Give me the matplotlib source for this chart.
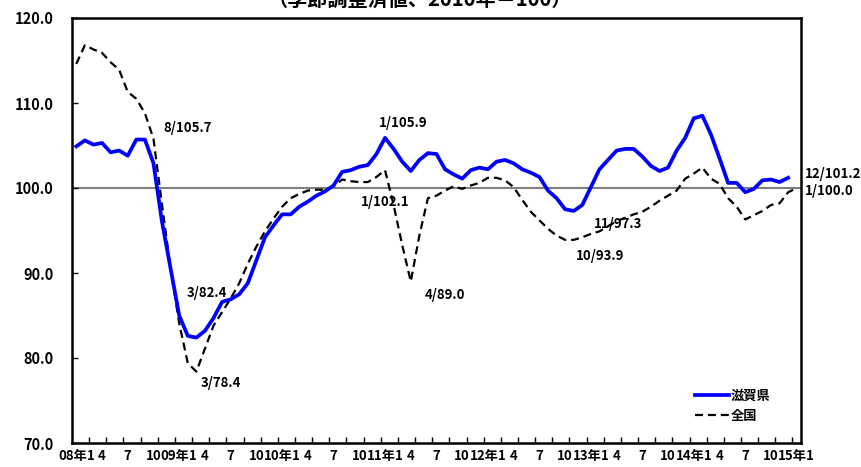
import matplotlib
matplotlib.use('Agg')
import matplotlib.pyplot as plt
import numpy as np

plt.rcParams['font.family'] = ['Noto Sans CJK JP', 'DejaVu Sans']
plt.rcParams['font.weight'] = 'bold'

# 2008年1月 ~ 2015年1月 (月次、季節調整済値、2010年=100)
years = ['08', '09', '10', '11', '12', '13', '14', '15']
shiga = [104.9, 105.6, 105.1, 105.3, 104.2, 104.4, 103.8, 105.7, 105.7, 102.9,
         96.0, 90.5, 85.0, 82.6, 82.4, 83.2, 84.7, 86.6, 86.9, 87.5,
         88.8, 91.5, 94.2, 95.6, 96.9, 96.9, 97.8, 98.4, 99.1, 99.6,
         100.3, 101.9, 102.1, 102.5, 102.7, 104.0, 105.9, 104.6, 103.1, 102.0,
         103.3, 104.1, 104.0, 102.2, 101.6, 101.1, 102.1, 102.4, 102.2, 103.1,
         103.3, 102.9, 102.2, 101.8, 101.3, 99.7, 98.8, 97.5, 97.3, 98.0,
         100.1, 102.2, 103.3, 104.4, 104.6, 104.6, 103.7, 102.6, 102.0, 102.4,
         104.4, 105.9, 108.2, 108.5, 106.3, 103.5, 100.6, 100.6, 99.5, 99.9,
         100.9, 101.0, 100.7, 101.2]
zenkoku = [114.6, 116.8, 116.3, 115.9, 114.8, 113.9, 111.3, 110.5, 108.8, 105.8,
           98.0, 90.5, 84.1, 79.4, 78.4, 81.1, 83.8, 85.4, 87.0, 88.8,
           91.1, 93.1, 94.9, 96.4, 97.8, 98.8, 99.3, 99.7, 99.8, 99.8,
           100.2, 101.0, 100.8, 100.7, 100.7, 101.3, 102.1, 98.0, 93.3, 89.0,
           94.4, 98.8, 99.1, 99.7, 100.2, 99.9, 100.3, 100.6, 101.2, 101.2,
           100.9, 100.1, 98.6, 97.2, 96.2, 95.2, 94.4, 93.9, 93.9, 94.2,
           94.6, 94.9, 95.5, 96.1, 96.5, 96.9, 97.2, 97.8, 98.5, 99.1,
           99.7, 101.1, 101.7, 102.4, 101.1, 100.5, 98.8, 97.8, 96.3, 96.8,
           97.3, 98.0, 98.2, 99.5, 100.0]

# 注記 (文字, x位置(月番号), y位置)
notes = [('8/105.7', 10.1, 107.1), ('1/105.9', 35.3, 107.6), ('1/102.1', 33.2, 98.3),
         ('3/82.4', 12.9, 87.7), ('3/78.4', 14.5, 77.0), ('4/89.0', 40.6, 87.4),
         ('10/93.9', 58.3, 92.0), ('11/97.3', 60.3, 95.8),
         ('12/101.2', 84.9, 101.7), ('1/100.0', 84.9, 99.6)]

n = len(zenkoku)
x = np.arange(n)

fig = plt.figure(figsize=(8.61, 4.67), dpi=100)
ax = fig.add_axes([72/861, 1-443/467, 729/861, 425/467])

ax.axhline(100, color='#808080', lw=1.5, zorder=1)
ax.plot(x[:len(shiga)], shiga, color='#0000ff', lw=2.7, label='滋賀県', zorder=3)
ax.plot(x, zenkoku, color='black', lw=1.6, dashes=(3.6, 2.2), label='全国', zorder=2)

ax.set_xlim(-0.5, n - 0.5)
ax.set_ylim(70, 120)
ax.set_yticks(np.arange(70, 121, 10))
ax.set_yticklabels(['%.1f' % v for v in np.arange(70, 121, 10)], fontsize=10.5)
ax.tick_params(axis='y', direction='in', length=4, width=1, pad=13)

labels = []
for k in range(0, n, 3):
    m = k % 12 + 1
    labels.append(years[k // 12] + '年1' if m == 1 else str(m))
ax.set_xticks(np.arange(0, n, 3))
ax.set_xticklabels(labels, fontsize=9.5)
ax.tick_params(axis='x', which='major', length=0, pad=4)
ax.set_xticks(np.arange(1.5, n - 0.5, 2), minor=True)
ax.tick_params(axis='x', which='minor', direction='in', length=4, width=1)

for s in ax.spines.values():
    s.set_linewidth(1.8)

for txt, xx, yy in notes:
    ax.text(xx, yy, txt, fontsize=9.5, ha='left', va='center', clip_on=False)

ax.legend(loc='upper left', bbox_to_anchor=(0.838, 0.155), frameon=False,
          fontsize=9.5, handlelength=2.6, handletextpad=0.1, labelspacing=0.45)

fig.text(0.488, 1 - 6/467, '（季節調整済値、2010年＝100）', fontsize=14.5,
         ha='center', va='baseline')

fig.savefig('out.png', dpi=100)
